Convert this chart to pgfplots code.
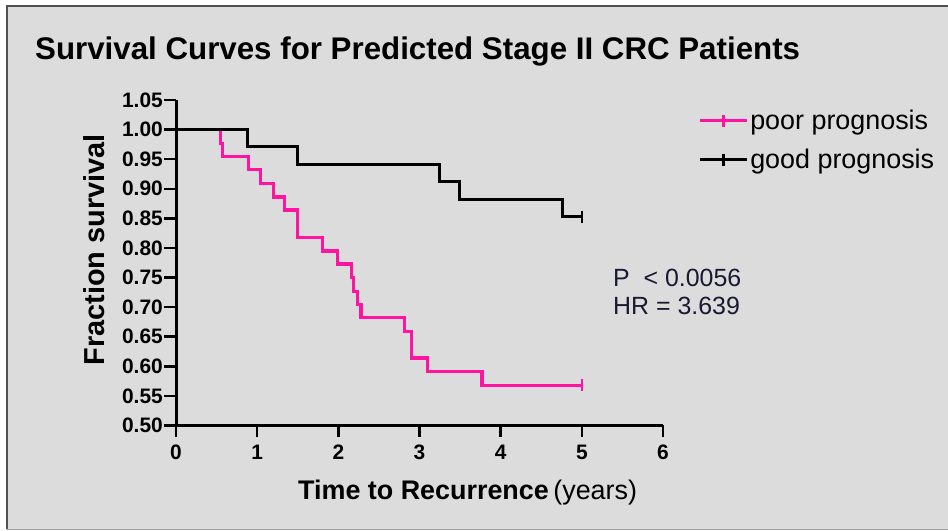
\documentclass[border=0pt]{standalone}
\usepackage{pgfplots}
\pgfplotsset{compat=1.18}
\usepackage{fontspec}
\setmainfont{Liberation Sans}
\definecolor{bg}{RGB}{220,220,220}
\definecolor{pinkc}{RGB}{255,20,160}
\definecolor{framec}{RGB}{80,80,80}
\definecolor{framel}{RGB}{160,160,160}
\definecolor{txt}{RGB}{25,25,50}
\begin{document}
\begin{tikzpicture}[x=1bp,y=1bp]
\path[use as bounding box] (0,0) rectangle (948,531);
\fill[white] (0,0) rectangle (948,531);
\fill[bg] (7,2) rectangle (948,524);
\draw[framec, line width=2bp] (6.5,1.5) -- (6.5,524.5) -- (948,524.5);
\draw[framel, line width=1.5bp] (6.5,1.5) -- (948,1.5);
\node[anchor=base west, inner sep=0pt, font=\bfseries\fontsize{31.4}{31.4}\selectfont] at (35,471) {Survival Curves for Predicted Stage II CRC Patients};
\begin{axis}[
  at={(176bp,105.5bp)}, anchor=south west,
  width=487bp, height=325.5bp, scale only axis,
  xmin=0, xmax=6, ymin=0.5, ymax=1.05,
  axis x line=bottom, axis y line=left,
  axis line style={-, line width=3bp, black},
  xtick={0,1,2,3,4,5,6},
  ytick={0.5,0.55,0.6,0.65,0.7,0.75,0.8,0.85,0.9,0.95,1.0,1.05},
  yticklabel style={/pgf/number format/.cd, fixed, fixed zerofill, precision=2},
  /pgf/number format/assume math mode=true,
  tick label style={font=\bfseries\fontsize{21}{21}\selectfont, inner sep=1bp},
  xticklabel style={inner sep=7bp},
  tick align=outside, major tick length=12bp,
  tick style={line width=2.5bp, black},
  clip=false,
  legend style={at={(1.072,0.975)}, anchor=north west, draw=none, fill=none,
    inner sep=0pt, row sep=14bp, font=\fontsize{27}{27}\selectfont,
    nodes={inner sep=2bp}},
  legend cell align=left,
  legend image code/.code={
    \draw[#1, line width=3bp] (0bp,0bp) -- (47bp,0bp);
    \draw[#1, line width=2.5bp] (23.5bp,-6bp) -- (23.5bp,6bp);
  },
]
\addplot[const plot, pinkc, line width=3.2bp] coordinates {
  (0,1.000) (0.55,0.977) (0.575,0.955) (0.89,0.932) (1.04,0.909) (1.205,0.886)
  (1.34,0.864) (1.50,0.818) (1.80,0.795) (1.99,0.773) (2.16,0.750) (2.19,0.727)
  (2.24,0.705) (2.28,0.682) (2.82,0.659) (2.90,0.614) (3.10,0.591) (3.77,0.568)
  (5.00,0.568)};
\addlegendentry{poor prognosis}
\addplot[const plot, black, line width=3.2bp] coordinates {
  (0,1.000) (0.877,0.971) (1.50,0.941) (3.25,0.912) (3.49,0.882) (4.76,0.853)
  (5.00,0.853)};
\addlegendentry{good prognosis}
\addplot[only marks, mark=|, mark size=6bp, mark options={line width=2.5bp}, pinkc, forget plot] coordinates {(5.00,0.568)};
\addplot[only marks, mark=|, mark size=6bp, mark options={line width=2.5bp}, black, forget plot] coordinates {(5.00,0.853)};
\end{axis}
\node[anchor=base, rotate=90, inner sep=0pt, font=\bfseries\fontsize{29}{29}\selectfont] at (104,281) {Fraction survival};
\node[anchor=base west, inner sep=0pt, font=\fontsize{27}{27}\selectfont] at (298,31) {\textbf{Time to Recurrence}\,(years)};
\node[anchor=base west, inner sep=0pt, text=txt, font=\fontsize{25}{25}\selectfont] at (613,244) {P\ \ < 0.0056};
\node[anchor=base west, inner sep=0pt, text=txt, font=\fontsize{25}{25}\selectfont] at (613,216) {HR = 3.639};
\end{tikzpicture}
\end{document}
